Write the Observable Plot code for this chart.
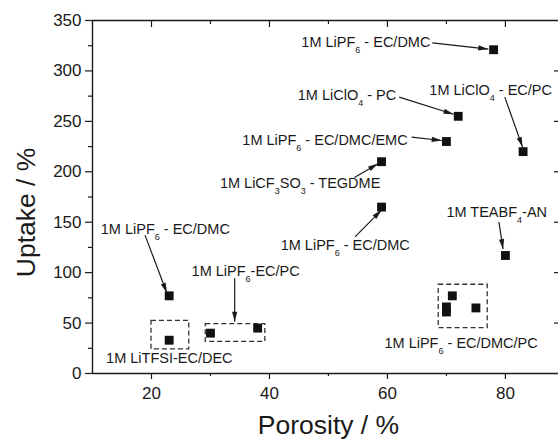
<!DOCTYPE html>
<html><head><meta charset="utf-8">
<script src="https://cdn.jsdelivr.net/npm/d3@7"></script>
<script src="https://cdn.jsdelivr.net/npm/@observablehq/plot@0.6"></script>
<style>html,body{margin:0;padding:0;background:#fff;overflow:hidden}</style>
</head><body><div id="chart"></div>
<script>
// Data points (porosity %, uptake %)
const porosity = [78, 72, 70, 83, 59, 59, 80, 23, 23, 30, 38, 71, 70, 70, 75];
const uptake   = [321, 255, 230, 220, 210, 165, 117, 77, 33, 40, 45, 77, 61, 66, 65];

// Annotation labels (data coordinates of the label's left/middle)
const labelText = ["1M LiPF₆ - EC/DMC", "1M LiClO₄ - PC", "1M LiClO₄ - EC/PC", "1M LiPF₆ - EC/DMC/EMC",
  "1M LiCF₃SO₃ - TEGDME", "1M LiPF₆ - EC/DMC", "1M TEABF₄-AN", "1M LiPF₆ - EC/DMC",
  "1M LiPF₆-EC/PC", "1M LiTFSI-EC/DEC", "1M LiPF₆ - EC/DMC/PC"];
const labelX = [45.4, 44.8, 67.1, 35.4, 31.6, 41.9, 70.0, 11.4, 26.8, 12.3, 59.5];
const labelY = [328, 276, 281, 231.5, 188.5, 127.3, 160, 143, 101.5, 15.5, 29.8];

// Arrows (data coordinates)
const arrowX1 = [67.6, 62.0, 79.9, 64.1, 54.4, 54.5, 78.9, 18.9, 34.1];
const arrowY1 = [327.9, 274, 274, 234.4, 194.4, 135.5, 150.4, 137.2, 94.5];
const arrowX2 = [77.1, 71.2, 82.9, 69.2, 58.4, 59.0, 79.6, 22.6, 34.1];
const arrowY2 = [321.7, 257, 224.5, 231, 208, 162, 123.3, 80, 51.2];

// Dashed group boxes
const boxX1 = [20.0, 29.2, 68.7];
const boxX2 = [26.4, 39.3, 77.0];
const boxY1 = [24, 31.4, 45];
const boxY2 = [52.2, 49, 88];

// Ticks
const xTicks = [20, 40, 60, 80];
const xMinor = [30, 50, 70];
const yTicks = [0, 50, 100, 150, 200, 250, 300, 350];
const yMinor = [25, 75, 125, 175, 225, 275, 325];

// Axis titles and their anchor positions (data coordinates)
const titles = [
  {t: "Porosity / %", x: 50, y: -59.5, rotate: 0},
  {t: "Uptake / %", x: 0.2, y: 159.7, rotate: -90}
];

const W = 558, H = 439, mL = 92, mR = 0, mT = 20, mB = 66;
const fW = W - mL - mR, fH = H - mT - mB;
const ink = "#1a1a1a";

const points = porosity.map((x, i) => ({x, y: uptake[i]}));
const labels = labelText.map((t, i) => ({t, x: labelX[i], y: labelY[i]}));
const arrows = arrowX1.map((x1, i) => ({x1, y1: arrowY1[i], x2: arrowX2[i], y2: arrowY2[i]}));
const boxes = boxX1.map((x1, i) => ({x1, x2: boxX2[i], y1: boxY1[i], y2: boxY2[i]}));

const svg = Plot.plot({
  width: W, height: H,
  marginLeft: mL, marginRight: mR, marginTop: mT, marginBottom: mB,
  style: {fontFamily: "'Liberation Sans', Arial, sans-serif", background: "#fff", color: ink},
  x: {domain: [10, 89]},
  y: {domain: [0, 350]},
  marks: [
    Plot.axisY({ticks: yTicks, tickSize: 7, tickPadding: 4, fontSize: 17, label: null, strokeWidth: 1.2}),
    Plot.axisY({ticks: yMinor, tickSize: 4, tickFormat: () => "", label: null, strokeWidth: 1.2}),
    Plot.axisX({ticks: xTicks, tickSize: 6, tickPadding: 7, fontSize: 17, label: null, strokeWidth: 1.2}),
    Plot.axisX({ticks: xMinor, tickSize: 3, tickFormat: () => "", label: null, strokeWidth: 1.2}),
    Plot.tickX(xTicks, {x: d => d, insetBottom: fH - 7, stroke: ink, strokeWidth: 1.2}),
    Plot.tickX(xMinor, {x: d => d, insetBottom: fH - 4, stroke: ink, strokeWidth: 1.2}),
    Plot.tickY(yTicks.slice(1, -1), {y: d => d, insetLeft: fW - 4, stroke: ink, strokeWidth: 1.2}),
    Plot.ruleX([10], {stroke: ink, strokeWidth: 1.4}),
    Plot.ruleY([0], {stroke: ink, strokeWidth: 1.4}),
    Plot.ruleY([350], {stroke: ink, strokeWidth: 1.4}),
    Plot.rect(boxes, {x1: "x1", x2: "x2", y1: "y1", y2: "y2", fill: "none", stroke: "#333", strokeWidth: 1.3, strokeDasharray: "5,3"}),
    Plot.link(arrows, {x1: "x1", y1: "y1", x2: "x2", y2: "y2", stroke: ink, strokeWidth: 1.2, markerEnd: "arrow"}),
    Plot.dot(points, {x: "x", y: "y", symbol: "square", r: 5, fill: "#111", stroke: "none"}),
    Plot.text(labels, {x: "x", y: "y", text: "t", textAnchor: "start", lineAnchor: "middle", fontSize: 14.5, fill: ink}),
    Plot.text(titles, {x: "x", y: "y", text: "t", rotate: "rotate", lineAnchor: "bottom", fontSize: 26.5, fill: ink, clip: false})
  ]
});

// Filled arrow heads
svg.querySelectorAll("marker").forEach(m => {
  m.setAttribute("viewBox", "-11 -5 12 10");
  m.setAttribute("markerWidth", "12");
  m.setAttribute("markerHeight", "10");
  m.setAttribute("markerUnits", "userSpaceOnUse");
  m.setAttribute("refX", "0");
  m.setAttribute("refY", "0");
  const p = m.querySelector("path");
  if (p) {
    p.setAttribute("d", "M-10,-2.6L0,0L-10,2.6Z");
    p.setAttribute("fill", ink);
    p.setAttribute("stroke", "none");
  }
});

// Render subscript digits as lowered small tspans
const NS = "http://www.w3.org/2000/svg";
svg.querySelectorAll("text").forEach(t => {
  if (t.querySelector("tspan")) return;
  const s = t.textContent;
  if (!/[\u2080-\u2089]/.test(s)) return;
  t.textContent = "";
  const parts = s.split(/([\u2080-\u2089]+)/);
  let shifted = false;
  parts.forEach((p, i) => {
    if (!p) return;
    const ts = document.createElementNS(NS, "tspan");
    if (i % 2 === 1) {
      ts.textContent = p.replace(/[\u2080-\u2089]/g, c => String.fromCharCode(c.charCodeAt(0) - 0x2080 + 48));
      ts.setAttribute("font-size", "9");
      ts.setAttribute("dy", "6");
      shifted = true;
    } else {
      ts.textContent = p;
      if (shifted) { ts.setAttribute("dy", "-6"); shifted = false; }
    }
    t.appendChild(ts);
  });
});

document.getElementById("chart").appendChild(svg);
</script></body></html>
